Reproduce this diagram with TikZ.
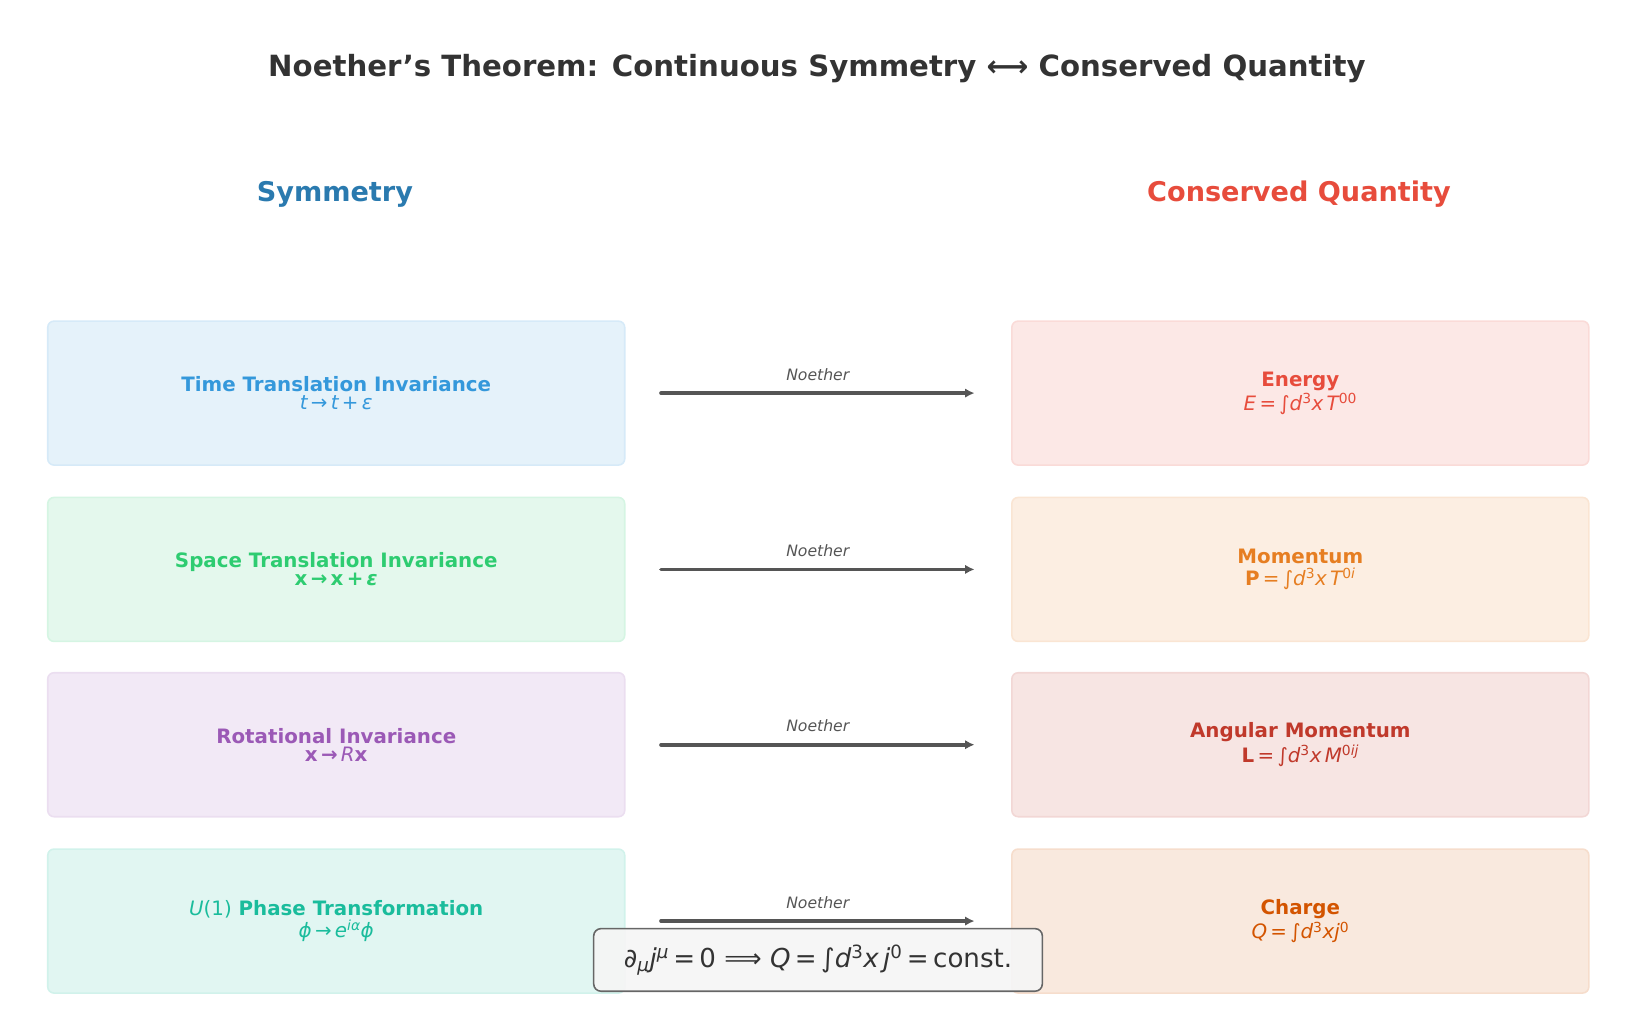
\documentclass[tikz,border=0pt]{standalone}
\usepackage{fontspec}
\usetikzlibrary{arrows.meta}
\setmainfont{DejaVu Sans}
\newcommand{\mi}[1]{{\itshape #1}}
\newcommand{\fs}[1]{\fontsize{#1}{#1}\selectfont}
\definecolor{cA}{HTML}{3498DB}\definecolor{cB}{HTML}{2ECC71}\definecolor{cC}{HTML}{9B59B6}\definecolor{cD}{HTML}{1ABC9C}
\definecolor{rA}{HTML}{E74C3C}\definecolor{rB}{HTML}{E67E22}\definecolor{rC}{HTML}{C0392B}\definecolor{rD}{HTML}{D35400}
\definecolor{ttl}{HTML}{333333}\definecolor{arr}{HTML}{555555}
\begin{document}
\begin{tikzpicture}[x=1pt,y=-1pt,
 card/.style={rounded corners=6pt,minimum width=553pt,minimum height=138pt,line width=1.5pt,anchor=north west},
 ctext/.style={align=center,font=\fs{19}\bfseries},
 conn/.style={line width=3.5pt,color=arr,-{Latex[length=9pt,width=9pt]},line cap=round},
 lab/.style={font=\fs{15}\itshape,text=arr}]
\useasboundingbox (0,0) rectangle (1567,992);
\node[font=\fs{28}\bfseries,text=ttl] (title) at (783,66) {Noether's Theorem: Continuous Symmetry ⟷ Conserved Quantity};
\node[font=\fs{26}\bfseries,text=cA!80!black] (hs) at (321,186) {Symmetry};
\node[font=\fs{26}\bfseries,text=rA] (hc) at (1245,186) {Conserved Quantity};
\foreach \i/\y/\lc/\rc in {1/307/cA/rA,2/476/cB/rB,3/644/cC/rC,4/813/cD/rD}{
 \node[card,fill=\lc!13,draw=\lc!20] (L\i) at (45,\y) {};
 \node[card,fill=\rc!13,draw=\rc!20] (R\i) at (969,\y) {};
 \draw[conn] ([xshift=34pt]L\i.east) -- node[lab,above=7pt] {Noether} ([xshift=-35pt]R\i.west);
}
\node[ctext,text=cA] at (L1.center) {Time Translation Invariance\\[-2pt]{\mdseries\mi{t}\,→\,\mi{t}\,+\,\mi{ε}}};
\node[ctext,text=cB] at (L2.center) {Space Translation Invariance\\[-2pt]x\,→\,x\,+\,\mi{ε}};
\node[ctext,text=cC] at (L3.center) {Rotational Invariance\\[-2pt]x\,→\,{\mdseries\mi{R}}x};
\node[ctext,text=cD] at (L4.center) {{\mdseries\mi{U}(1)} Phase Transformation\\[2pt]{\mdseries\mi{ϕ}\,→\,\mi{e}\textsuperscript{\mi{iα}}\mi{ϕ}}};
\node[ctext,text=rA] at (R1.center) {Energy\\[2pt]{\mdseries\mi{E}\,=\,∫\mi{d}\textsuperscript{3}\mi{x}\,\mi{T}\textsuperscript{00}}};
\node[ctext,text=rB] at (R2.center) {Momentum\\[2pt]P{\mdseries\,=\,∫\mi{d}\textsuperscript{3}\mi{x}\,\mi{T}\textsuperscript{0\mi{i}}}};
\node[ctext,text=rC] at (R3.center) {Angular Momentum\\[2pt]L{\mdseries\,=\,∫\mi{d}\textsuperscript{3}\mi{x}\,\mi{M}\textsuperscript{0\mi{ij}}}};
\node[ctext,text=rD] at (R4.center) {Charge\\[2pt]{\mdseries\mi{Q}\,=\,∫\mi{d}\textsuperscript{3}\mi{x}\mi{j}\textsuperscript{0}}};
\node[draw=black!60,fill=black!4,rounded corners=7pt,line width=1.5pt,minimum width=430pt,minimum height=60pt,font=\fs{25},text=ttl,fill opacity=0.95,text opacity=1] (eq) at (784,920)
 {∂\textsubscript{\mi{μ}}\mi{j}\textsuperscript{\mi{μ}}\,=\,0 ⟹ \mi{Q}\,=\,∫\mi{d}\textsuperscript{3}\mi{x}\,\mi{j}\textsuperscript{0}\,=\,const.};
\end{tikzpicture}
\end{document}
